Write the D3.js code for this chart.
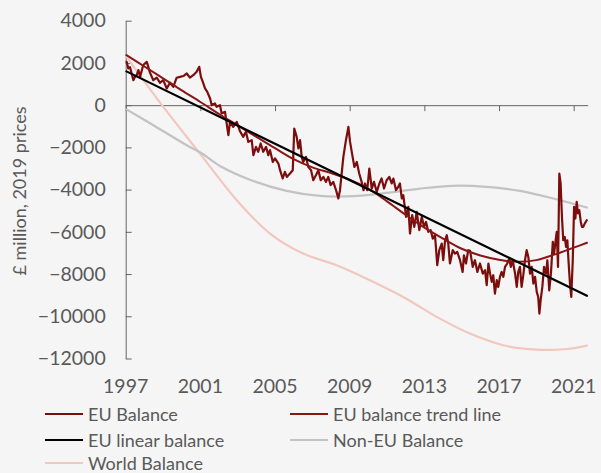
<!DOCTYPE html>
<html>
<head>
<meta charset="utf-8">
<script src="https://cdn.jsdelivr.net/npm/d3@7"></script>
<style>
  html, body { margin: 0; padding: 0; background: #f5f5f5; }
  svg { display: block; font-family: Lato, "Open Sans", sans-serif; }
</style>
</head>
<body>
<div id="chart"></div>
<script>
// ---- data (decimal year, £ million) ----
const euBalance = [
  [1997.05, 2050], [1997.14, 1740], [1997.23, 1800], [1997.32, 1500], [1997.41, 1185],
  [1997.50, 1340], [1997.59, 1420], [1997.68, 1660], [1997.77, 1340], [1997.94, 1900],
  [1998.13, 2050], [1998.30, 1540], [1998.48, 1180], [1998.66, 1300], [1998.84, 1060],
  [1999.01, 1185], [1999.20, 790], [1999.37, 1060], [1999.55, 870], [1999.73, 1300],
  [1999.91, 1340], [2000.09, 1380], [2000.27, 1500], [2000.44, 1300], [2000.62, 1420],
  [2000.80, 1580], [2000.94, 1815], [2001.03, 1340], [2001.13, 1100], [2001.25, 790],
  [2001.37, 630], [2001.52, 315], [2001.61, 0], [2001.78, 80], [2001.87, -80],
  [2002.05, 0], [2002.14, -395], [2002.32, -315], [2002.50, -1420], [2002.59, -790],
  [2002.76, -1030], [2002.95, -790], [2003.12, -1230], [2003.30, -1500], [2003.44, -1265],
  [2003.57, -1740], [2003.75, -1660], [2003.84, -2370], [2003.98, -1975], [2004.10, -2210],
  [2004.23, -1815], [2004.37, -2210], [2004.52, -1975], [2004.64, -2370], [2004.73, -2130],
  [2004.88, -2690], [2005.00, -2525], [2005.18, -2765], [2005.27, -3080], [2005.41, -3475],
  [2005.53, -3160], [2005.63, -3400], [2005.80, -3240], [2005.95, -3080], [2006.03, -1105],
  [2006.16, -1500], [2006.25, -2050], [2006.34, -1660], [2006.43, -2450], [2006.51, -2690],
  [2006.66, -2450], [2006.78, -2925], [2006.93, -3080], [2007.05, -3555], [2007.19, -3320],
  [2007.32, -3080], [2007.45, -3555], [2007.59, -3400], [2007.73, -3635], [2007.85, -3400],
  [2007.98, -3790], [2008.12, -3635], [2008.27, -4030], [2008.39, -4420], [2008.48, -4030],
  [2008.66, -2450], [2008.80, -1660], [2008.93, -1030], [2009.02, -1740], [2009.14, -2370],
  [2009.25, -2925], [2009.38, -2690], [2009.51, -3240], [2009.64, -3635], [2009.74, -4030],
  [2009.82, -3710], [2009.94, -4030], [2010.05, -3000], [2010.18, -3950], [2010.30, -3635],
  [2010.45, -4110], [2010.59, -3710], [2010.71, -3475], [2010.84, -3950], [2010.98, -3555],
  [2011.12, -3400], [2011.25, -3710], [2011.34, -3475], [2011.48, -4030], [2011.60, -3870],
  [2011.69, -3710], [2011.79, -4420], [2011.87, -4265], [2012.02, -5290], [2012.14, -4820],
  [2012.23, -6080], [2012.35, -5210], [2012.46, -5765], [2012.59, -5055], [2012.73, -5920],
  [2012.86, -5290], [2012.98, -5765], [2013.09, -5530], [2013.21, -6000], [2013.34, -5920],
  [2013.45, -6320], [2013.57, -6160], [2013.69, -7580], [2013.80, -6870], [2013.93, -6555],
  [2014.01, -7345], [2014.11, -6400], [2014.20, -6160], [2014.28, -6555], [2014.37, -7500],
  [2014.52, -6870], [2014.64, -7030], [2014.76, -6950], [2014.91, -7345], [2015.05, -7900],
  [2015.12, -7110], [2015.23, -7500], [2015.35, -6870], [2015.45, -6900], [2015.59, -7660],
  [2015.71, -7345], [2015.84, -7900], [2015.98, -7500], [2016.13, -7980], [2016.25, -7820],
  [2016.34, -8530], [2016.43, -7500], [2016.52, -7980], [2016.61, -8370], [2016.69, -8055],
  [2016.78, -8925], [2016.88, -8290], [2016.96, -8610], [2017.05, -8135], [2017.14, -7900],
  [2017.23, -8135], [2017.32, -7660], [2017.44, -7500], [2017.55, -7265], [2017.63, -7660],
  [2017.73, -7345], [2017.86, -7980], [2017.95, -8610], [2018.03, -7900], [2018.12, -7660],
  [2018.21, -8610], [2018.30, -8055], [2018.39, -7345], [2018.48, -6870], [2018.57, -7190],
  [2018.66, -7980], [2018.75, -7660], [2018.84, -8450], [2018.93, -8135], [2019.02, -8845],
  [2019.10, -9085], [2019.16, -9870], [2019.23, -9240], [2019.32, -8610], [2019.41, -7660],
  [2019.52, -7980], [2019.59, -7345], [2019.69, -8770], [2019.78, -7980], [2019.88, -6475],
  [2019.95, -7030], [2020.01, -6555], [2020.09, -6000], [2020.16, -7660], [2020.23, -3240],
  [2020.30, -3710], [2020.37, -5290], [2020.44, -6400], [2020.52, -6240], [2020.59, -6715],
  [2020.66, -6400], [2020.73, -7500], [2020.80, -8450], [2020.87, -9085], [2020.95, -7345],
  [2021.02, -4820], [2021.09, -5370], [2021.16, -4580], [2021.23, -5130], [2021.30, -4975],
  [2021.38, -5530], [2021.44, -5765], [2021.51, -5765], [2021.59, -5610], [2021.70, -5450]
];

const euTrend = [
  [1997.04, 2370], [1998, 1830], [1999, 1270], [2000, 700], [2001, 150], [2002, -420],
  [2003, -960], [2004, -1500], [2005, -2040], [2006, -2560], [2007, -2950], [2008, -3220],
  [2009, -3530], [2010, -3960], [2011, -4560], [2012, -5200], [2013, -5800], [2014, -6320],
  [2015, -6800], [2016, -7120], [2017, -7320], [2018, -7420], [2019, -7340], [2020, -7070],
  [2021, -6750], [2021.71, -6520]
];

const euLinear = [[1997.04, 1600], [2021.71, -9030]];

const nonEuBalance = [
  [1997.04, -200], [1998.48, -950], [2000.27, -1900], [2001.07, -2280], [2002.05, -2880],
  [2003.83, -3590], [2005.62, -4060], [2007.41, -4300], [2009.19, -4310], [2010.98, -4155],
  [2012.76, -3950], [2014.55, -3820], [2016.34, -3870], [2018.12, -4060], [2019.90, -4420],
  [2021.71, -4850]
];

const worldBalance = [
  [1997.04, 2300], [1998.84, 120], [2001.0, -2320], [2002.95, -4500], [2004.73, -6080],
  [2006.51, -7030], [2008.30, -7580], [2010.08, -8290], [2011.87, -9085], [2013.66, -10030],
  [2015.44, -10820], [2017.22, -11370], [2019.01, -11580], [2020.62, -11550], [2021.71, -11390]
];

const xTickYears = [1997, 2001, 2005, 2009, 2013, 2017, 2021];
const yTicks = [4000, 2000, 0, -2000, -4000, -6000, -8000, -10000, -12000];
const yTitle = "£ million, 2019 prices";

const legendItems = [
  { name: "EU Balance", color: "#7b0d0d" },
  { name: "EU balance trend line", color: "#8a1616" },
  { name: "EU linear balance", color: "#000000" },
  { name: "Non-EU Balance", color: "#c3c3c3" },
  { name: "World Balance", color: "#f2c7be" }
];

// ---- layout ----
const width = 601, height = 473;
const textColor = "#595959";

const x = d3.scaleLinear().domain([1997, 2021.75]).range([125.7, 587.7]);
const y = d3.scaleLinear().domain([-12000, 4000]).range([358.5, 20.7]);

const svg = d3.select("#chart").append("svg")
  .attr("width", width)
  .attr("height", height);

svg.append("rect").attr("width", width).attr("height", height).attr("fill", "#f5f5f5");

// y axis, ticks pointing into the plot
const yAxis = svg.append("g")
  .attr("transform", `translate(${x.range()[0]},0)`)
  .call(d3.axisLeft(y).tickValues(yTicks).tickFormat(d3.format("d"))
    .tickSize(-6).tickSizeOuter(0).tickPadding(20));
yAxis.select(".domain").attr("stroke", "#666");
yAxis.selectAll(".tick line").attr("stroke", "#666");
yAxis.selectAll(".tick text")
  .attr("fill", textColor)
  .style("font-size", "19.5px")
  .style("font-family", "Lato, sans-serif");

// x axis sits on zero, labels at the bottom
const xAxis = svg.append("g")
  .attr("transform", `translate(0,${y(0)})`)
  .call(d3.axisBottom(x).tickValues(xTickYears).tickSize(6).tickSizeOuter(0).tickFormat(""));
xAxis.select(".domain").attr("stroke", "#666");
xAxis.selectAll(".tick line").attr("stroke", "#666");

svg.append("g").selectAll("text")
  .data(xTickYears)
  .join("text")
  .attr("x", d => x(d))
  .attr("y", 393)
  .attr("text-anchor", "middle")
  .attr("fill", textColor)
  .style("font-size", "19.5px")
  .text(d => d);

svg.append("text")
  .attr("transform", "translate(26,191) rotate(-90)")
  .attr("text-anchor", "middle")
  .attr("fill", textColor)
  .style("font-size", "18px")
  .text(yTitle);

// ---- lines ----
const lineStraight = d3.line().x(d => x(d[0])).y(d => y(d[1]));
const lineSmooth = d3.line().x(d => x(d[0])).y(d => y(d[1])).curve(d3.curveCatmullRom.alpha(0.5));

const plot = svg.append("g").attr("fill", "none").attr("stroke-linejoin", "round").attr("stroke-linecap", "round");

plot.append("path").datum(worldBalance)
  .attr("d", lineSmooth).attr("stroke", legendItems[4].color).attr("stroke-width", 2.2);
plot.append("path").datum(nonEuBalance)
  .attr("d", lineSmooth).attr("stroke", legendItems[3].color).attr("stroke-width", 2.2);
plot.append("path").datum(euBalance)
  .attr("d", lineStraight).attr("stroke", legendItems[0].color).attr("stroke-width", 2.2);
plot.append("path").datum(euTrend)
  .attr("d", lineSmooth).attr("stroke", legendItems[1].color).attr("stroke-width", 2);
plot.append("path").datum(euLinear)
  .attr("d", lineStraight).attr("stroke", legendItems[2].color).attr("stroke-width", 2.2);

// ---- legend ----
const legendPos = [[45, 414], [290, 414], [45, 440], [290, 440], [45, 463]];
const legend = svg.append("g").selectAll("g")
  .data(legendItems)
  .join("g")
  .attr("transform", (d, i) => `translate(${legendPos[i][0]},${legendPos[i][1]})`);

legend.append("line")
  .attr("x1", 0).attr("x2", 38)
  .attr("stroke", d => d.color)
  .attr("stroke-width", 2.2);

legend.append("text")
  .attr("x", 43)
  .attr("y", 6.5)
  .attr("fill", textColor)
  .style("font-size", "18px")
  .text(d => d.name);
</script>
</body>
</html>
